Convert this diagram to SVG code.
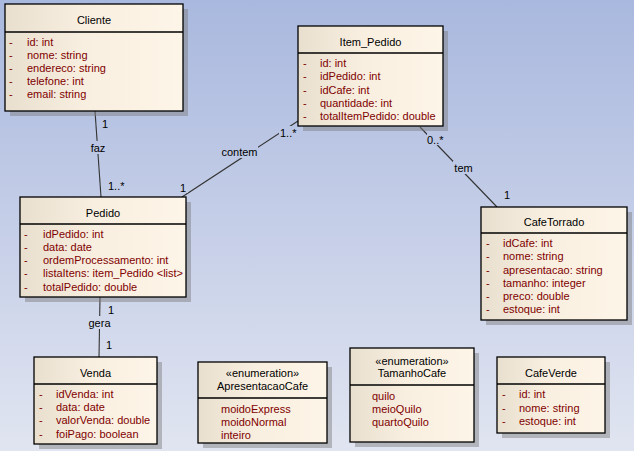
<svg xmlns="http://www.w3.org/2000/svg" width="634" height="451" viewBox="0 0 634 451">
<defs>
<linearGradient id="bg" x1="0" y1="0" x2="0" y2="451" gradientUnits="userSpaceOnUse">
<stop offset="0" stop-color="#a9b8de"/>
<stop offset="1" stop-color="#e1e5f1"/>
</linearGradient>
<linearGradient id="box" x1="0" y1="0" x2="1" y2="0">
<stop offset="0" stop-color="#e8dfcf"/>
<stop offset="0.45" stop-color="#f9efe0"/>
<stop offset="1" stop-color="#fdf5e8"/>
</linearGradient>
<style>
text{font-family:"Liberation Sans",Arial,sans-serif;font-size:11px;fill:#000}
.t{text-anchor:middle}
.a{fill:#800000}
.b{fill:url(#box);stroke:#000;stroke-width:1.3}
.s{fill:#7a7a7a;opacity:0.45}
.h{stroke:#000;stroke-width:1.3}
.c{stroke:#333;stroke-width:1.1;fill:none}
.lb{fill:url(#bg)}
.l{text-anchor:middle;fill:#000}
</style>
</defs>
<rect width="634" height="451" fill="url(#bg)"/>

<g id="connectors">
<line class="c" x1="95" y1="111" x2="101" y2="197"/>
<line class="c" x1="182" y1="197" x2="298" y2="121"/>
<line class="c" x1="420" y1="127" x2="497" y2="207"/>
<line class="c" x1="100" y1="297" x2="99" y2="357"/>
<rect class="lb" x="89" y="141" width="18" height="13"/>
<text class="l" x="98" y="152">faz</text>
<text x="102" y="128">1</text>
<text x="108" y="190">1..*</text>
<rect class="lb" x="221" y="145" width="37" height="13"/>
<text class="l" x="239.5" y="156">contem</text>
<rect class="lb" x="179" y="181" width="9" height="12"/>
<text x="180" y="192">1</text>
<rect class="lb" x="279" y="126" width="17" height="12"/>
<text x="280" y="137">1..*</text>
<rect class="lb" x="453" y="161" width="21" height="13"/>
<text class="l" x="463.5" y="172">tem</text>
<rect class="lb" x="427" y="133" width="17" height="12"/>
<text x="427" y="144">0..*</text>
<text x="504" y="199">1</text>
<rect class="lb" x="88" y="316" width="23" height="13"/>
<text class="l" x="99.5" y="327">gera</text>
<text x="108" y="314">1</text>
<text x="106" y="349">1</text>
</g>

<g id="Cliente">
<rect class="s" x="10" y="9" width="178" height="107"/>
<rect class="b" x="5" y="4" width="178" height="107"/>
<line class="h" x1="5" y1="32" x2="183" y2="32"/>
<text class="t" x="94" y="24">Cliente</text>
<text class="a" x="9" y="46">-</text><text class="a" x="27" y="46">id: int</text>
<text class="a" x="9" y="59">-</text><text class="a" x="27" y="59">nome: string</text>
<text class="a" x="9" y="72">-</text><text class="a" x="27" y="72">endereco: string</text>
<text class="a" x="9" y="85">-</text><text class="a" x="27" y="85">telefone: int</text>
<text class="a" x="9" y="98">-</text><text class="a" x="27" y="98">email: string</text>
</g>

<g id="Item_Pedido">
<rect class="s" x="303" y="31" width="145" height="100"/>
<rect class="b" x="298" y="26" width="145" height="100"/>
<line class="h" x1="298" y1="53" x2="443" y2="53"/>
<text class="t" x="370.5" y="46">Item_Pedido</text>
<text class="a" x="303" y="67">-</text><text class="a" x="320" y="67">id: int</text>
<text class="a" x="303" y="80">-</text><text class="a" x="320" y="80">idPedido: int</text>
<text class="a" x="303" y="94">-</text><text class="a" x="320" y="94">idCafe: int</text>
<text class="a" x="303" y="107">-</text><text class="a" x="320" y="107">quantidade: int</text>
<text class="a" x="303" y="120">-</text><text class="a" x="320" y="120">totalItemPedido: double</text>
</g>

<g id="Pedido">
<rect class="s" x="25" y="202" width="166" height="100"/>
<rect class="b" x="20" y="197" width="166" height="100"/>
<line class="h" x1="20" y1="224" x2="186" y2="224"/>
<text class="t" x="103" y="217">Pedido</text>
<text class="a" x="24" y="238">-</text><text class="a" x="43" y="238">idPedido: int</text>
<text class="a" x="24" y="251">-</text><text class="a" x="43" y="251">data: date</text>
<text class="a" x="24" y="264">-</text><text class="a" x="43" y="264">ordemProcessamento: int</text>
<text class="a" x="24" y="277">-</text><text class="a" x="43" y="277">listaItens: item_Pedido &lt;list&gt;</text>
<text class="a" x="24" y="291">-</text><text class="a" x="43" y="291">totalPedido: double</text>
</g>

<g id="CafeTorrado">
<rect class="s" x="486" y="212" width="146" height="113"/>
<rect class="b" x="481" y="207" width="146" height="113"/>
<line class="h" x1="481" y1="233" x2="627" y2="233"/>
<text class="t" x="554" y="226">CafeTorrado</text>
<text class="a" x="486" y="247">-</text><text class="a" x="503" y="247">idCafe: int</text>
<text class="a" x="486" y="260">-</text><text class="a" x="503" y="260">nome: string</text>
<text class="a" x="486" y="274">-</text><text class="a" x="503" y="274">apresentacao: string</text>
<text class="a" x="486" y="287">-</text><text class="a" x="503" y="287">tamanho: integer</text>
<text class="a" x="486" y="300">-</text><text class="a" x="503" y="300">preco: double</text>
<text class="a" x="486" y="313">-</text><text class="a" x="503" y="313">estoque: int</text>
</g>

<g id="Venda">
<rect class="s" x="39" y="362" width="123" height="87"/>
<rect class="b" x="34" y="357" width="123" height="87"/>
<line class="h" x1="34" y1="384" x2="157" y2="384"/>
<text class="t" x="95.5" y="377">Venda</text>
<text class="a" x="39" y="398">-</text><text class="a" x="56" y="398">idVenda: int</text>
<text class="a" x="39" y="411">-</text><text class="a" x="56" y="411">data: date</text>
<text class="a" x="39" y="424">-</text><text class="a" x="56" y="424">valorVenda: double</text>
<text class="a" x="39" y="438">-</text><text class="a" x="56" y="438">foiPago: boolean</text>
</g>

<g id="ApresentacaoCafe">
<rect class="s" x="203" y="367" width="129" height="81"/>
<rect class="b" x="198" y="362" width="129" height="81"/>
<line class="h" x1="198" y1="398" x2="327" y2="398"/>
<text class="t" x="262.5" y="377">«enumeration»</text>
<text class="t" x="262.5" y="390">ApresentacaoCafe</text>
<text class="a" x="221" y="413">moidoExpress</text>
<text class="a" x="221" y="426">moidoNormal</text>
<text class="a" x="221" y="439">inteiro</text>
</g>

<g id="TamanhoCafe">
<rect class="s" x="355" y="353" width="124" height="94"/>
<rect class="b" x="350" y="348" width="124" height="94"/>
<line class="h" x1="350" y1="385" x2="474" y2="385"/>
<text class="t" x="412" y="365">«enumeration»</text>
<text class="t" x="412" y="377">TamanhoCafe</text>
<text class="a" x="372" y="400">quilo</text>
<text class="a" x="372" y="413">meioQuilo</text>
<text class="a" x="372" y="426">quartoQuilo</text>
</g>

<g id="CafeVerde">
<rect class="s" x="502" y="362" width="108" height="76"/>
<rect class="b" x="497" y="357" width="108" height="76"/>
<line class="h" x1="497" y1="384" x2="605" y2="384"/>
<text class="t" x="551" y="377">CafeVerde</text>
<text class="a" x="502" y="398">-</text><text class="a" x="519" y="398">id: int</text>
<text class="a" x="502" y="412">-</text><text class="a" x="519" y="412">nome: string</text>
<text class="a" x="502" y="425">-</text><text class="a" x="519" y="425">estoque: int</text>
</g>
</svg>
